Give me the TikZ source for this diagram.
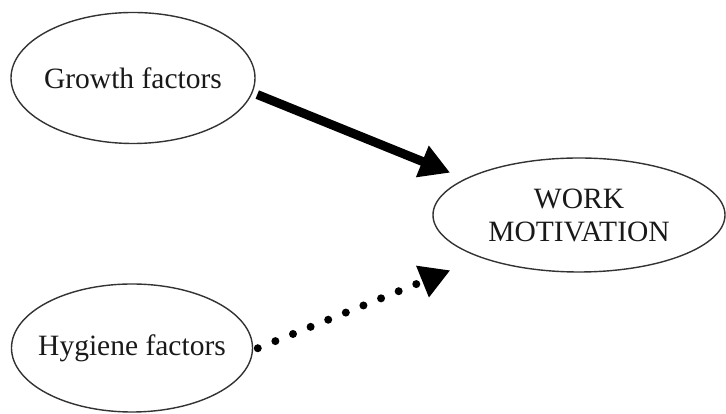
\documentclass[tikz,border=0pt]{standalone}
\usepackage{fontspec}
\setmainfont{Liberation Serif}
\usetikzlibrary{shapes.geometric,arrows.meta}
\begin{document}
\begin{tikzpicture}[x=1pt,y=1pt,
  factor/.style={ellipse,draw=black!80,line width=1.4pt,inner sep=0pt},
  caption/.style={font=\fontsize{29.5}{33}\selectfont,text=black!90,align=center},
  strong/.style={line width=9pt,shorten <=5pt,-{Triangle[length=30pt,width=32pt]}},
  weak/.style={line width=8pt,line cap=round,dash pattern=on 0pt off 19pt,
    shorten <=5pt,-{Triangle[length=30pt,width=32pt]}}]
  \useasboundingbox (0,0) rectangle (726,414);
  % the three factor ellipses, text set as centred labels so the size stays fixed
  \node[factor,minimum width=244pt,minimum height=131pt,
    label={[caption]center:Growth factors}] (g) at (133,336) {};
  \node[factor,minimum width=241pt,minimum height=128pt,
    label={[caption]center:Hygiene factors}] (h) at (132,66) {};
  \node[factor,minimum width=292pt,minimum height=114pt,
    label={[caption]center:WORK\\MOTIVATION}] (w) at (579,199) {};
  % influence arrows
  \draw[strong] (g.-7) -- ([shift={(-18.5pt,4.3pt)}]w.161);
  \draw[weak] (h.-1) -- ([shift={(-29pt,-13pt)}]w.203);
\end{tikzpicture}
\end{document}
